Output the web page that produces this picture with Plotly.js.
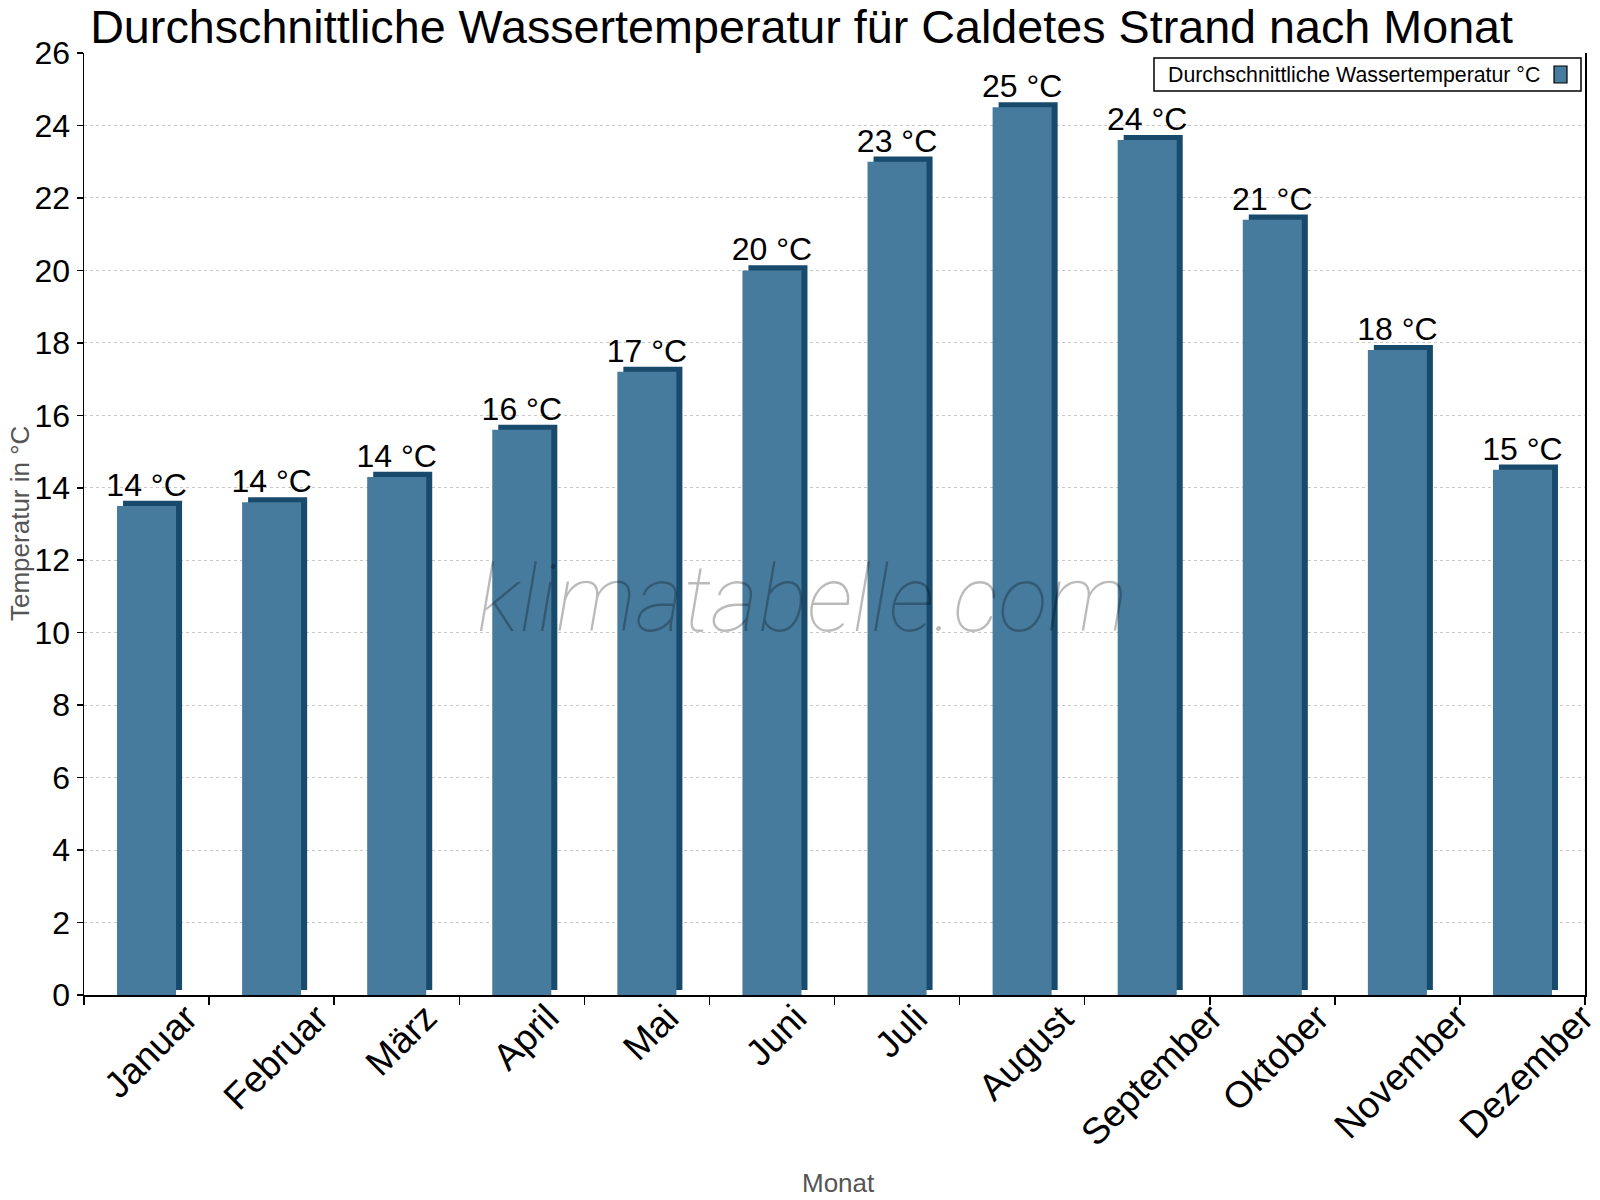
<!DOCTYPE html>
<html>
<head>
<meta charset="utf-8">
<script src="https://cdn.plot.ly/plotly-3.0.1.min.js"></script>
<style>html,body{margin:0;padding:0;background:#fff;}#chart{width:1600px;height:1200px;}</style>
</head>
<body>
<div id="chart"></div>
<script>
const months = ["Januar","Februar","März","April","Mai","Juni","Juli","August","September","Oktober","November","Dezember"];
const waterTemp = [13.5, 13.6, 14.3, 15.6, 17.2, 20.0, 23.0, 24.5, 23.6, 21.4, 17.8, 14.5];
const seriesName = "Durchschnittliche Wassertemperatur °C";
const labels = waterTemp.map(v => Math.round(v) + " °C");

const FONT = "Liberation Sans, Arial, sans-serif";
const FRONT = "#467b9d";
const DARK = "#184a6c";
const barWidth = 0.472;
const depthX = 0.048;   // 3D side offset (category units)
const depthY = 0.14;    // 3D top offset (°C units)

// plot-area pixel geometry used for paper-coordinate placement of decorations
const L = 84, R = 15, T = 53, B = 205, W = 1600, H = 1200;
const pw = W - L - R, ph = H - T - B;
const px = x => (x - L) / pw;
const py = y => (H - B - y) / ph;

const back = {
  type: "bar",
  x: months,
  y: waterTemp,
  base: waterTemp.map(() => depthY),
  width: barWidth,
  offset: -barWidth / 2 + depthX,
  marker: { color: DARK, line: { width: 0 } },
  showlegend: false,
  hoverinfo: "skip"
};

const front = {
  type: "bar",
  name: seriesName,
  x: months,
  y: waterTemp,
  width: barWidth,
  offset: -barWidth / 2,
  marker: { color: FRONT, line: { width: 0 } },
  text: labels,
  textposition: "outside",
  constraintext: "none",
  textfont: { family: FONT, size: 32, color: "#000" },
  cliponaxis: false,
  showlegend: false
};

// rotated month labels, centred under each category (as in the reference)
const monthLabels = months.map(m => ({
  text: m,
  xref: "x", yref: "paper",
  x: m, y: py(994),
  xanchor: "center", yanchor: "top",
  xshift: 4,
  textangle: -45,
  showarrow: false,
  font: { family: FONT, size: 37, color: "#000" }
}));

const layout = {
  width: W,
  height: H,
  margin: { l: L, r: R, t: T, b: B },
  paper_bgcolor: "#fff",
  plot_bgcolor: "#fff",
  barmode: "overlay",
  font: { family: FONT, color: "#000" },
  title: {
    text: "Durchschnittliche Wassertemperatur für Caldetes Strand nach Monat",
    font: { family: FONT, size: 46.7, color: "#000" },
    x: 0.501, xanchor: "center",
    yref: "container", y: 0.978, yanchor: "middle"
  },
  xaxis: {
    type: "category",
    range: [-0.5, months.length - 0.5],
    tickson: "boundaries",
    ticks: "outside",
    ticklen: 8,
    tickcolor: "#000",
    tickwidth: 1.5,
    showticklabels: false,
    showline: true,
    linecolor: "#000",
    linewidth: 1.5,
    showgrid: false,
    zeroline: false
  },
  yaxis: {
    range: [0, 26],
    dtick: 2,
    ticks: "outside",
    ticklen: 6,
    tickcolor: "#000",
    tickwidth: 1.5,
    tickfont: { family: FONT, size: 32, color: "#000" },
    showline: true,
    mirror: true,
    linecolor: "#000",
    linewidth: 1.5,
    showgrid: true,
    gridcolor: "#c8c8c8",
    griddash: "dot",
    gridwidth: 1,
    zeroline: false
  },
  showlegend: false,
  shapes: [
    // legend box
    { type: "rect", xref: "paper", yref: "paper", layer: "above",
      x0: px(1154), x1: px(1581), y0: py(91), y1: py(58),
      line: { color: "#000", width: 1.5 }, fillcolor: "#fff" },
    // legend symbol
    { type: "rect", xref: "paper", yref: "paper", layer: "above",
      x0: px(1554), x1: px(1567), y0: py(83), y1: py(66),
      line: { color: "#000", width: 1.2 }, fillcolor: FRONT }
  ],
  annotations: [
    {
      text: "klimatabelle.com",
      xref: "paper", yref: "paper",
      x: 0.479, y: 0.42,
      xanchor: "center", yanchor: "middle",
      showarrow: false,
      font: { family: "Roboto, sans-serif", size: 92, color: "rgba(0,0,0,0.27)", style: "italic", weight: 100 }
    },
    {
      text: seriesName,
      xref: "paper", yref: "paper",
      x: px(1166), y: py(75),
      xanchor: "left", yanchor: "middle",
      showarrow: false,
      font: { family: FONT, size: 21.3, color: "#000" }
    },
    {
      text: "Temperatur in °C",
      xref: "paper", yref: "paper",
      x: px(20), y: py(524),
      xanchor: "center", yanchor: "middle",
      textangle: -90,
      showarrow: false,
      font: { family: FONT, size: 26, color: "#555" }
    },
    {
      text: "Monat",
      xref: "paper", yref: "paper",
      x: px(839), y: py(1183),
      xanchor: "center", yanchor: "middle",
      showarrow: false,
      font: { family: FONT, size: 26, color: "#555" }
    }
  ].concat(monthLabels)
};

Plotly.newPlot("chart", [back, front], layout, { displayModeBar: false, staticPlot: true });
</script>
</body>
</html>
